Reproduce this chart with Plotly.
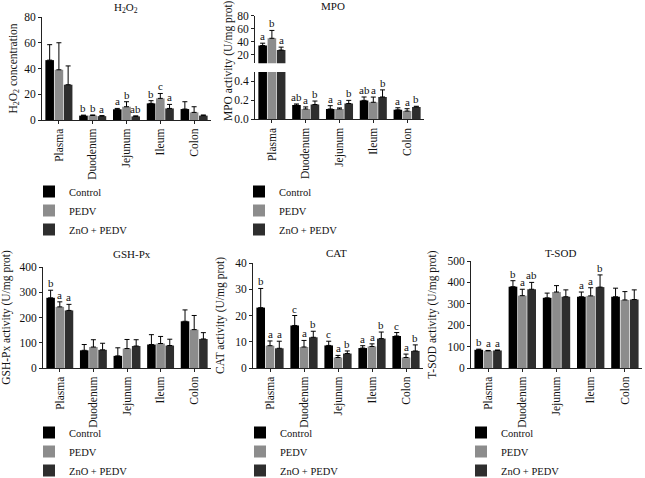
import plotly.graph_objects as go

categories = ["Plasma", "Duodenum", "Jejunum", "Ileum", "Colon"]
groups = ["Control", "PEDV", "ZnO + PEDV"]
colors = ["#000000", "#8c8c8c", "#2e2e2e"]

# H2O2
h2o2_control = [46.5, 3.4, 8.3, 12.9, 8.5]
h2o2_control_sd = [12.0, 0.4, 0.7, 2.1, 5.7]
h2o2_pedv = [39.0, 3.5, 10.3, 16.8, 5.9]
h2o2_pedv_sd = [21.0, 0.4, 3.9, 3.8, 4.4]
h2o2_zno = [27.4, 3.0, 2.8, 9.0, 3.4]
h2o2_zno_sd = [14.6, 0.4, 0.4, 3.1, 0.5]
h2o2_letters = [["", "b", "a", "b", ""], ["", "b", "b", "c", ""], ["", "a", "ab", "a", ""]]

# MPO
mpo_control = [34.5, 0.150, 0.109, 0.200, 0.100]
mpo_control_sd = [3.5, 0.012, 0.035, 0.036, 0.022]
mpo_pedv = [45.5, 0.109, 0.109, 0.180, 0.087]
mpo_pedv_sd = [12.0, 0.022, 0.011, 0.055, 0.025]
mpo_zno = [27.5, 0.156, 0.167, 0.236, 0.131]
mpo_zno_sd = [4.5, 0.037, 0.033, 0.075, 0.007]
mpo_letters = [["a", "ab", "a", "ab", "a"], ["b", "a", "a", "a", "a"], ["a", "b", "b", "b", "b"]]

# GSH-Px
gsh_control = [278, 70, 48, 93, 185]
gsh_control_sd = [30, 23, 32, 39, 45]
gsh_pedv = [242, 83, 77, 97, 152]
gsh_pedv_sd = [20, 29, 36, 28, 56]
gsh_zno = [228, 72, 87, 89, 115]
gsh_zno_sd = [24, 26, 25, 25, 25]
gsh_letters = [["b", "", "", "", ""], ["a", "", "", "", ""], ["a", "", "", "", ""]]

# CAT
cat_control = [23.0, 16.2, 8.6, 7.6, 12.2]
cat_control_sd = [7.3, 3.8, 1.6, 0.9, 1.3]
cat_pedv = [8.5, 8.0, 4.0, 8.2, 4.0]
cat_pedv_sd = [1.8, 2.5, 0.8, 1.0, 1.3]
cat_zno = [7.5, 11.7, 5.5, 11.2, 6.5]
cat_zno_sd = [2.7, 2.3, 1.0, 2.5, 2.3]
cat_letters = [["b", "c", "c", "a", "c"], ["a", "a", "a", "a", "a"], ["a", "b", "b", "b", "b"]]

# T-SOD
tsod_control = [85, 380, 328, 333, 333]
tsod_control_sd = [3, 28, 22, 22, 40]
tsod_pedv = [80, 338, 355, 337, 318]
tsod_pedv_sd = [2, 30, 30, 38, 39]
tsod_zno = [82, 368, 333, 378, 320]
tsod_zno_sd = [2, 32, 32, 57, 45]
tsod_letters = [["b", "b", "", "a", ""], ["a", "a", "", "a", ""], ["a", "ab", "", "b", ""]]

W, H = 645, 478
FONT = "Liberation Serif"
AXC = "#222222"
TXT = "#111111"
BARGAP = 0.18
TICKSZ = 11.5
TITLESZ = 11.5


def px(xp):
    return xp / W


def py(yp):
    return 1 - yp / H


fig = go.Figure()
annotations = []


def add_bars(means, sds, xa, ya, legend, showlegend=True, xcats=None):
    for i, (m, s) in enumerate(zip(means, sds)):
        fig.add_trace(go.Bar(
            x=xcats or categories, y=m, name=groups[i],
            marker=dict(color=colors[i], line=dict(width=0)),
            error_y=dict(type="data", array=s, arrayminus=[0] * len(s), symmetric=False,
                         color="#000000", thickness=1, width=2.5),
            xaxis=xa, yaxis=ya, legend=legend, showlegend=showlegend,
        ))


def add_letters(means, sds, letters, xa, ya, only=None):
    slot = (1 - BARGAP) / 3
    for i in range(3):
        for j, lab in enumerate(letters[i]):
            if not lab:
                continue
            if only is not None and j not in only:
                continue
            annotations.append(dict(
                x=j + (i - 1) * slot, y=means[i][j] + sds[i][j], xref=xa, yref=ya,
                text=lab, showarrow=False, yanchor="bottom", yshift=-1,
                font=dict(family=FONT, size=11, color=TXT)))


def xaxis_cfg(x0, x1, anchor):
    return dict(domain=[px(x0), px(x1)], anchor=anchor, type="category",
                range=[-0.5, 4.5], showline=True, linecolor=AXC, linewidth=1,
                ticks="outside", ticklen=3, tickcolor=AXC, tickangle=-90,
                tickfont=dict(family=FONT, size=TICKSZ, color=TXT),
                showgrid=False, zeroline=False, fixedrange=True)


def yaxis_cfg(y0, y1, anchor, rng, dtick, title=None, fmt=None, standoff=9):
    d = dict(domain=[py(y1), py(y0)], anchor=anchor, range=rng, dtick=dtick,
             tick0=0, showline=True, linecolor=AXC, linewidth=1,
             ticks="outside", ticklen=3, tickcolor=AXC,
             tickfont=dict(family=FONT, size=TICKSZ, color=TXT),
             showgrid=False, zeroline=False, fixedrange=True)
    if title is not None:
        d["title"] = dict(text=title, font=dict(family=FONT, size=TITLESZ, color=TXT),
                          standoff=standoff)
    if fmt:
        d["tickformat"] = fmt
    return d


# Panel 1: H2O2
h_m = [h2o2_control, h2o2_pedv, h2o2_zno]
h_s = [h2o2_control_sd, h2o2_pedv_sd, h2o2_zno_sd]
add_bars(h_m, h_s, "x", "y", "legend")
add_letters(h_m, h_s, h2o2_letters, "x", "y")

# Panel 2: MPO (broken axis: lower 0-0.5 segment, upper 20-80 segment)
mpo_m = [mpo_control, mpo_pedv, mpo_zno]
mpo_s = [mpo_control_sd, mpo_pedv_sd, mpo_zno_sd]
add_bars(mpo_m, [[0] + s[1:] for s in mpo_s], "x2", "y2", "legend2")
add_bars([[m[0]] for m in mpo_m], [[s[0]] for s in mpo_s], "x2", "y3", "legend2",
         showlegend=False, xcats=categories[:1])
add_letters(mpo_m, mpo_s, mpo_letters, "x2", "y2", only=[1, 2, 3, 4])
add_letters(mpo_m, mpo_s, mpo_letters, "x2", "y3", only=[0])

# Panel 3: GSH-Px
gsh_m = [gsh_control, gsh_pedv, gsh_zno]
gsh_s = [gsh_control_sd, gsh_pedv_sd, gsh_zno_sd]
add_bars(gsh_m, gsh_s, "x3", "y4", "legend3")
add_letters(gsh_m, gsh_s, gsh_letters, "x3", "y4")

# Panel 4: CAT
cat_m = [cat_control, cat_pedv, cat_zno]
cat_s = [cat_control_sd, cat_pedv_sd, cat_zno_sd]
add_bars(cat_m, cat_s, "x4", "y5", "legend4")
add_letters(cat_m, cat_s, cat_letters, "x4", "y5")

# Panel 5: T-SOD
ts_m = [tsod_control, tsod_pedv, tsod_zno]
ts_s = [tsod_control_sd, tsod_pedv_sd, tsod_zno_sd]
add_bars(ts_m, ts_s, "x5", "y6", "legend5")
add_letters(ts_m, ts_s, tsod_letters, "x5", "y6")

titles = [("H<sub>2</sub>O<sub>2</sub>", 126, 8), ("MPO", 333, 6), ("GSH-Px", 132, 254),
          ("CAT", 337, 253), ("T-SOD", 560, 253)]
for t, xp, yp in titles:
    annotations.append(dict(text=t, x=px(xp), y=py(yp), xref="paper", yref="paper",
                            showarrow=False, xanchor="center", yanchor="middle",
                            font=dict(family=FONT, size=11, color=TXT)))

# MPO shared y title spanning both segments
annotations.append(dict(text="MPO activity (U/mg prot)", x=px(229), y=py(61), xref="paper",
                        yref="paper", textangle=-90, showarrow=False, xanchor="center",
                        yanchor="middle", font=dict(family=FONT, size=TITLESZ, color=TXT)))

leg_common = dict(font=dict(family=FONT, size=10.5, color=TXT), bgcolor="rgba(0,0,0,0)",
                  xanchor="left", yanchor="top", traceorder="normal", itemclick=False,
                  itemdoubleclick=False)
legend_pos = {"legend": (29, 177), "legend2": (239, 177), "legend3": (29, 418),
              "legend4": (240, 418), "legend5": (461, 418)}

layout = dict(
    width=W, height=H, margin=dict(l=0, r=0, t=0, b=0, autoexpand=False),
    paper_bgcolor="white", plot_bgcolor="white",
    barmode="group", bargap=BARGAP, bargroupgap=0.07,
    font=dict(family=FONT, size=10.5, color=TXT),
    xaxis=xaxis_cfg(42, 211, "y"),
    yaxis=yaxis_cfg(17, 120, "x", [0, 80], 20, "H<sub>2</sub>O<sub>2</sub> concentration",
                    standoff=4),
    xaxis2=xaxis_cfg(255, 424, "y2"),
    yaxis2=yaxis_cfg(72, 119.3, "x2", [0, 0.5], 0.2, None, ".1f"),
    yaxis3=yaxis_cfg(15.7, 63.3, "x2", [7.3, 80], 20),
    xaxis3=xaxis_cfg(43, 211, "y4"),
    yaxis4=yaxis_cfg(267, 368, "x3", [0, 400], 100, "GSH-Px activity (U/mg prot)", standoff=9),
    xaxis4=xaxis_cfg(253, 423, "y5"),
    yaxis5=yaxis_cfg(263, 368, "x4", [0, 40], 10, "CAT activity (U/mg prot)", standoff=8),
    xaxis5=xaxis_cfg(471, 642, "y6"),
    yaxis6=yaxis_cfg(261, 368, "x5", [0, 500], 100, "T-SOD activity (U/mg prot)", standoff=8),
    annotations=annotations,
    showlegend=True,
)
layout["yaxis3"]["tickvals"] = [20, 40, 60, 80]
for k, (xp, yp) in legend_pos.items():
    layout[k] = dict(leg_common, x=px(xp), y=py(yp))

fig.update_layout(**layout)
fig.write_html("out.html", config={"displayModeBar": False},
               post_script="document.body.style.margin='0';")
